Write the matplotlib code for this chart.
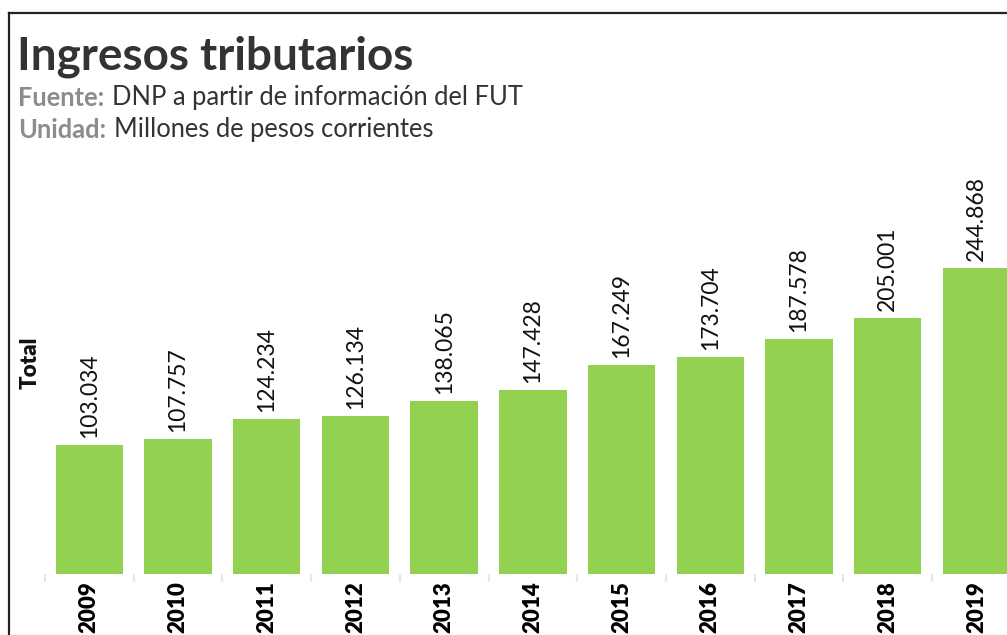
import numpy as np
import matplotlib.pyplot as plt
from matplotlib.lines import Line2D

plt.rcParams['font.family'] = ['Lato', 'DejaVu Sans']

years = ['2009', '2010', '2011', '2012', '2013', '2014', '2015', '2016', '2017', '2018', '2019']
values = [103.034, 107.757, 124.234, 126.134, 138.065, 147.428, 167.249, 173.704, 187.578, 205.001, 244.868]
labels = ['103.034', '107.757', '124.234', '126.134', '138.065', '147.428', '167.249',
          '173.704', '187.578', '205.001', '244.868']

W, H = 1007, 635
fig = plt.figure(figsize=(W / 100, H / 100), dpi=100)

# axes: bottom at y=574px, top at y=150px, left 45px, right at the image edge
ax = fig.add_axes([45 / W, (H - 574) / H, (W - 45) / W, (574 - 150) / H])
x = np.arange(len(years))
ax.bar(x, values, width=0.76, color='#92D050')

for xi, v, lab in zip(x, values, labels):
    ax.annotate(lab, (xi, v), xytext=(0, 5), textcoords='offset points',
                rotation=90, ha='center', va='bottom', fontsize=16.5, color='#111111')

ax.set_xticks(x)
ax.set_xticklabels(years, rotation=90, fontsize=16, fontweight='heavy', va='top')
ax.tick_params(axis='x', which='major', length=0, pad=5)
ax.set_xticks(np.arange(-0.5, len(years), 1), minor=True)
ax.tick_params(axis='x', which='minor', length=6, color='#e6e6e6', width=1.5)
ax.set_yticks([])
for s in ax.spines.values():
    s.set_visible(False)
# limits after ticks so the minor ticks do not widen the view
ax.set_xlim(-0.5, 10.345)
ax.set_ylim(0, 339)

fig.text(30 / W, 1 - 363 / H, 'Total', rotation=90, ha='center', va='center',
         fontsize=16, fontweight='heavy', color='#111111')

# title block
fig.text(17 / W, 1 - 57 / H, 'Ingresos tributarios', fontsize=33, fontweight='bold',
         color='#333333', ha='left', va='center')
t = fig.text(18 / W, 1 - 98 / H, 'Fuente:', fontsize=18.4, fontweight='bold',
             color='#8c8c8c', ha='left', va='center')
fig.canvas.draw()
bb = t.get_window_extent()
fig.text((bb.x1 + 8) / W, 1 - 98 / H, 'DNP a partir de información del FUT', fontsize=18.4,
         color='#333333', ha='left', va='center')
t2 = fig.text(18 / W, 1 - 130 / H, 'Unidad:', fontsize=18.4, fontweight='bold',
              color='#8c8c8c', ha='left', va='center')
bb2 = t2.get_window_extent()
fig.text((bb2.x1 + 8) / W, 1 - 130 / H, 'Millones de pesos corrientes', fontsize=18.4,
         color='#333333', ha='left', va='center')

# frame lines at top and left
fig.add_artist(Line2D([9 / W, 1], [1 - 13 / H, 1 - 13 / H], color='#222222', lw=1.6))
fig.add_artist(Line2D([9 / W, 9 / W], [0, 1 - 13 / H], color='#222222', lw=1.6))

fig.savefig('out.png', dpi=100)
